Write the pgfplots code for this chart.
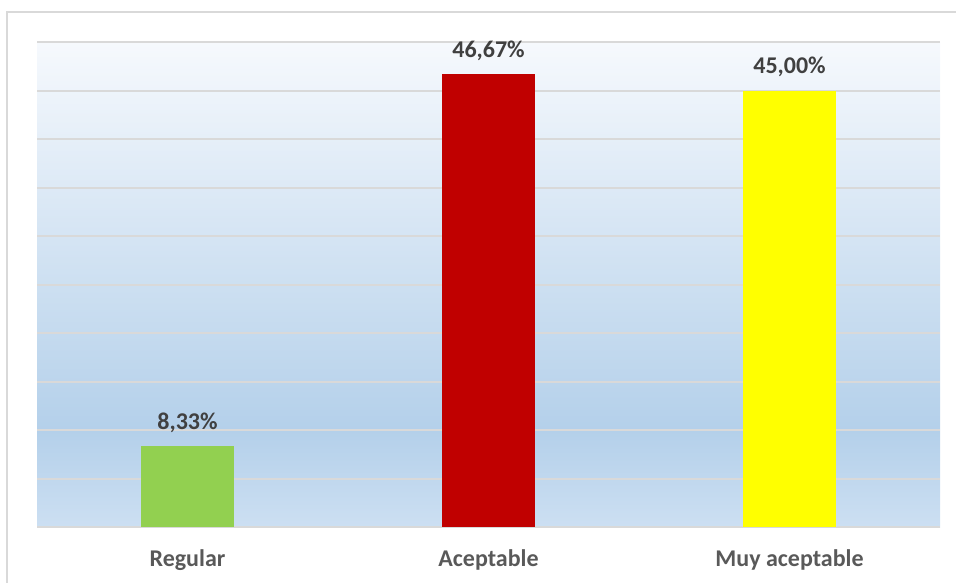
\documentclass[border=0pt]{standalone}
\usepackage{pgfplots}
\pgfplotsset{compat=1.18}
\usepackage{fontspec}
\setmainfont{Carlito}
\definecolor{bgtop}{HTML}{F6F9FD}
\definecolor{bgmid}{HTML}{B4D0EA}
\definecolor{bgbot}{HTML}{CCDFF2}
\definecolor{gridgrey}{HTML}{D9D9D9}
\definecolor{framegrey}{HTML}{D9D9D9}
\definecolor{valtext}{HTML}{404040}
\definecolor{cattext}{HTML}{595959}
\definecolor{barGreen}{HTML}{92D050}
\definecolor{barRed}{HTML}{C00000}
\definecolor{barYellow}{HTML}{FFFF00}
\pgfdeclareverticalshading{bgshade}{100bp}{color(0bp)=(bgbot); color(25bp)=(bgbot); color(35bp)=(bgmid); color(75bp)=(bgtop); color(100bp)=(bgtop)}

\begin{document}
\begin{tikzpicture}
\useasboundingbox (0,0) rectangle (956pt,-582pt);
\draw[framegrey, line width=1.5pt] (7pt,-584pt) -- (7pt,-12pt) -- (958pt,-12pt);

\begin{axis}[
  at={(37pt,-527pt)}, anchor=south west,
  width=903pt, height=485pt, scale only axis,
  xmin=-0.5, xmax=2.5, ymin=0, ymax=50,
  ytick={0,5,...,50}, yticklabels={},
  xtick={0,1,2},
  xticklabels={Regular, Aceptable, Muy aceptable},
  xticklabel style={font=\fontsize{24}{28}\selectfont\bfseries, text=cattext, anchor=base, inner sep=0pt, yshift=-39pt},
  major tick length=0pt,
  axis line style={draw=none},
  ymajorgrids, grid style={gridgrey, line width=2pt},
  axis background/.style={shading=bgshade},
  ybar, bar width=0.312, bar shift=0pt,
  point meta=explicit symbolic,
  nodes near coords,
  every node near coord/.append style={font=\fontsize{24}{28}\selectfont\bfseries, text=valtext, anchor=base, inner sep=0pt, yshift=17pt},
  clip=false,
]
\addplot[fill=barGreen, draw=none] coordinates {(0,8.33) [8,33\%]};
\addplot[fill=barRed, draw=none] coordinates {(1,46.67) [46,67\%]};
\addplot[fill=barYellow, draw=none] coordinates {(2,45.00) [45,00\%]};
\end{axis}
\end{tikzpicture}
\end{document}
